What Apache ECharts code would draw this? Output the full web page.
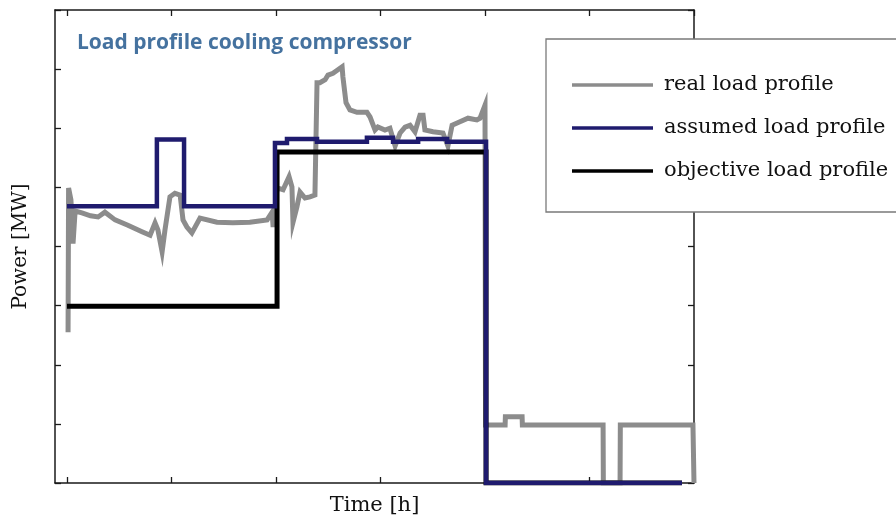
<!DOCTYPE html>
<html>
<head>
<meta charset="utf-8">
<script src="https://cdn.jsdelivr.net/npm/echarts@6/dist/echarts.min.js"></script>
<style>html,body{margin:0;padding:0;background:#fff;}#c{width:896px;height:518px;}</style>
</head>
<body>
<div id="c"></div>
<script>
// ---- data (time in h, power in MW-units) ----
var xTicks = [0, 4, 8, 12, 16, 20, 24];
var seriesNames = ['real load profile', 'assumed load profile', 'objective load profile'];

var realTime = [0.04,0.06,0.15,0.23,0.31,0.57,0.9,1.19,1.45,1.84,2.33,2.87,3.18,3.37,3.48,3.64,3.75,3.94,4.13,4.33,4.44,4.59,4.78,5.09,5.74,6.35,7.0,7.66,7.85,7.89,8.04,8.27,8.5,8.61,8.65,8.8,8.92,9.11,9.3,9.49,9.57,9.68,9.88,9.99,10.18,10.37,10.53,10.56,10.68,10.83,11.1,11.48,11.6,11.79,11.9,12.17,12.36,12.56,12.75,12.94,13.13,13.32,13.51,13.63,13.7,14.01,14.39,14.58,14.74,15.04,15.35,15.69,15.81,16.0,16.02,16.77,16.78,17.42,17.43,20.52,20.53,21.17,21.18,23.96,24.0];
var realPower = [2.55,4.99,4.79,4.05,4.6,4.57,4.52,4.5,4.58,4.45,4.36,4.25,4.19,4.4,4.28,3.91,4.28,4.84,4.9,4.87,4.45,4.33,4.23,4.48,4.41,4.4,4.41,4.45,4.58,4.33,4.99,4.96,5.18,5.01,4.41,4.67,4.92,4.82,4.84,4.87,6.77,6.77,6.82,6.9,6.93,6.99,7.04,6.87,6.43,6.31,6.27,6.27,6.19,5.97,6.02,5.97,6.0,5.7,5.92,6.02,6.05,5.94,6.22,6.22,5.97,5.94,5.92,5.7,6.05,6.11,6.17,6.14,6.17,6.39,0.98,0.98,1.12,1.12,0.98,0.98,0,0,0.98,0.98,0];

var assumedTime = [0,3.44,3.44,4.48,4.48,7.96,7.96,8.42,8.42,9.57,9.57,11.48,11.48,12.48,12.48,13.44,13.44,14.55,14.55,16.04,16.04,23.54];
var assumedPower = [4.68,4.68,5.81,5.81,4.68,4.68,5.75,5.75,5.82,5.82,5.77,5.77,5.84,5.84,5.77,5.77,5.82,5.82,5.77,5.77,0,0];

var objectiveTime = [0,8.04,8.04,16.04,16.04,23.54];
var objectivePower = [2.99,2.99,5.6,5.6,0,0];

function pairs(xs, ys){ return xs.map(function(x,i){ return [x, ys[i]]; }); }

var serifFont = '"DejaVu Serif", "Liberation Serif", serif';
var frameColor = '#1a1a1a';

var chart = echarts.init(document.getElementById('c'), null, {renderer:'canvas'});

function xAxisDef(pos, withName){
  var a = {
    type:'value', position:pos, min:-0.46, max:24,
    axisLine:{show:true, onZero:false, lineStyle:{color:frameColor, width:1.5}},
    axisTick:{show:true, inside:true, length:6, customValues:xTicks, lineStyle:{color:frameColor, width:1.3}},
    axisLabel:{show:false},
    splitLine:{show:false}
  };
  if (withName){
    a.name = 'Time [h]';
    a.nameLocation = 'middle';
    a.nameGap = 12;
    a.nameTextStyle = {fontFamily:serifFont, fontSize:21, color:'#111', verticalAlign:'top'};
  }
  return a;
}
function yAxisDef(pos, withName){
  var a = {
    type:'value', position:pos, min:0, max:8, interval:1,
    axisLine:{show:true, onZero:false, lineStyle:{color:frameColor, width:1.5}},
    axisTick:{show:true, inside:true, length:6, lineStyle:{color:frameColor, width:1.3}},
    axisLabel:{show:false},
    splitLine:{show:false}
  };
  if (withName){
    a.name = 'Power [MW]';
    a.nameLocation = 'middle';
    a.nameGap = 24;
    a.nameTextStyle = {fontFamily:serifFont, fontSize:20, color:'#111'};
  }
  return a;
}

var option = {
  backgroundColor:'#ffffff',
  animation:false,
  title:{
    text:'Load profile cooling compressor',
    left:77, top:33, padding:0,
    textStyle:{fontFamily:'"Open Sans", Lato, sans-serif', fontWeight:'bold', fontSize:21, color:'#45729f'}
  },
  grid:{left:55, top:10, right:202, bottom:35, containLabel:false, outerBoundsMode:'none'},
  xAxis:[xAxisDef('bottom', true), xAxisDef('top', false)],
  yAxis:[yAxisDef('left', true), yAxisDef('right', false)],
  graphic:[{
    type:'rect', z:50,
    shape:{x:546, y:39, width:370, height:173},
    style:{fill:'#ffffff', stroke:'#7a7a7a', lineWidth:1.3}
  }],
  legend:{
    orient:'vertical', left:572, top:73, z:60, padding:0,
    itemWidth:81, itemHeight:3.5, itemGap:19,
    icon:'rect',
    data:seriesNames,
    textStyle:{fontFamily:serifFont, fontSize:21, color:'#111', lineHeight:24, padding:[0,0,0,6]},
    selectedMode:false
  },
  series:[
    {
      name:seriesNames[0], type:'line', xAxisIndex:0, yAxisIndex:0,
      data:pairs(realTime, realPower), showSymbol:false, symbol:'none', z:2,
      itemStyle:{color:'#8c8c8c'},
      lineStyle:{color:'#8c8c8c', width:5, join:'miter', cap:'butt'}
    },
    {
      name:seriesNames[2], type:'line', xAxisIndex:0, yAxisIndex:0,
      data:pairs(objectiveTime, objectivePower), showSymbol:false, symbol:'none', z:3,
      itemStyle:{color:'#000000'},
      lineStyle:{color:'#000000', width:5, join:'miter', cap:'butt'}
    },
    {
      name:seriesNames[1], type:'line', xAxisIndex:0, yAxisIndex:0,
      data:pairs(assumedTime, assumedPower), showSymbol:false, symbol:'none', z:4,
      itemStyle:{color:'#1f1b6e'},
      lineStyle:{color:'#1f1b6e', width:4.5, join:'miter', cap:'butt'}
    }
  ]
};
chart.setOption(option);
</script>
</body>
</html>
